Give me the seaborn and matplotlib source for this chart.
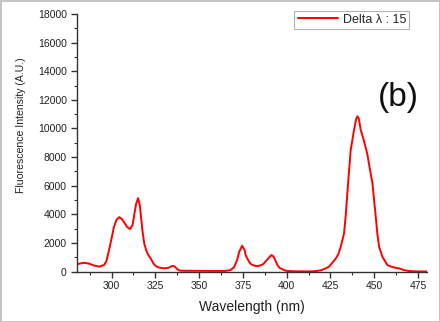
import matplotlib
matplotlib.use("Agg")
import matplotlib.pyplot as plt
import seaborn as sns
import pandas as pd
from matplotlib.ticker import MultipleLocator

# Synchronous fluorescence spectrum, delta lambda = 15 nm
wavelength = [280, 284, 287, 290, 293, 295.7, 297, 298.6, 300, 301.4, 303, 304.5,
              306, 307.5, 309, 310.6, 312, 312.8, 314, 315.2, 316.2, 317.6, 318.7,
              319.9, 321, 322.4, 324, 325.2, 327, 330, 332.5, 334.8, 336, 337.6,
              339, 342, 350, 360, 365, 367.9, 370, 371.7, 373, 374.6, 376, 376.6,
              378, 378.9, 380, 382.3, 384, 386, 387.1, 389, 391.3, 392.5, 393.5,
              394.7, 396, 398.5, 400, 405, 410, 415, 418, 420, 422.3, 424.2, 426,
              428, 429.5, 430.9, 432.8, 433.7, 435.1, 436.6, 438.5, 439.7, 440.4,
              441.2, 442.3, 444, 446.1, 447.5, 449, 450.9, 451.8, 452.8,
              454.7, 457.5, 460, 462, 464.2, 467, 470, 475, 480]
intensity = [500, 610, 560, 420, 340, 450, 700, 1500, 2300, 3130, 3650, 3800,
             3650, 3380, 3100, 2970, 3250, 3830, 4700, 5130, 4600, 2900, 1950,
             1450, 1150, 900, 550, 385, 280, 220, 260, 390, 360, 150,
             60, 50, 45, 40, 40, 100, 300, 800, 1400, 1800, 1500, 1150,
             800, 620, 480, 385, 390, 470, 570, 850, 1150, 1050, 800,
             450, 250, 100, 40, 10, 5, 10, 50, 100, 220, 340, 600,
             900, 1200, 1730, 2670, 3830, 6170, 8490, 9900, 10650, 10850,
             10700, 9900, 9200, 8200, 7200, 6170, 3830, 2670, 1730,
             1030, 450, 330, 260, 220, 100, 30, 5, 0]
series_label = "Delta \u03bb : 15"
panel_tag = "(b)"

sns.set_theme(style="ticks")
plt.rcParams["font.family"] = ["Liberation Sans", "DejaVu Sans"]

df = pd.DataFrame({"wavelength": wavelength, "intensity": intensity})

fig = plt.figure(figsize=(4.4, 3.22), dpi=100, edgecolor="#c4c4c4", linewidth=2)
ax = fig.add_axes([76.5 / 440, 50.5 / 322, (426.7 - 76.5) / 440, (271.5 - 14) / 322])

sns.lineplot(data=df, x="wavelength", y="intensity", ax=ax, color="#ff0000",
             linewidth=1.4, label=series_label)

ax.set_xlim(280, 480)
ax.set_ylim(0, 18000)
ax.xaxis.set_major_locator(MultipleLocator(25))
ax.xaxis.set_minor_locator(MultipleLocator(12.5))
ax.yaxis.set_major_locator(MultipleLocator(2000))
ax.yaxis.set_minor_locator(MultipleLocator(1000))

for side in ("top", "right"):
    ax.spines[side].set_visible(False)
for side in ("left", "bottom"):
    ax.spines[side].set_color("#333333")
    ax.spines[side].set_linewidth(1.0)

ax.tick_params(which="major", direction="out", length=4, width=1.0,
               color="#333333", labelsize=7.5, labelcolor="#222222", pad=3)
ax.tick_params(which="minor", direction="out", length=2, width=0.8, color="#333333")

ax.set_xlabel("Wavelength (nm)", fontsize=10, color="#222222", labelpad=6)
ax.set_ylabel("Fluorescence Intensity (A.U.)", fontsize=7.6, color="#222222",
              va="center")
ax.yaxis.set_label_coords(-0.158, 0.569)

leg = ax.legend(loc="upper right", bbox_to_anchor=(409 / 440, 1 - 10.7 / 322),
                bbox_transform=fig.transFigure, borderaxespad=0, fontsize=9,
                frameon=True, fancybox=False, handlelength=3.2,
                borderpad=0.25, handletextpad=0.4)
leg.get_frame().set_edgecolor("#a0a0a0")
leg.get_frame().set_linewidth(0.8)

fig.text(398 / 440, 1 - 97 / 322, panel_tag, fontsize=24, ha="center", va="center",
         color="#111111")

fig.savefig("out.png", dpi=100, edgecolor=fig.get_edgecolor())
